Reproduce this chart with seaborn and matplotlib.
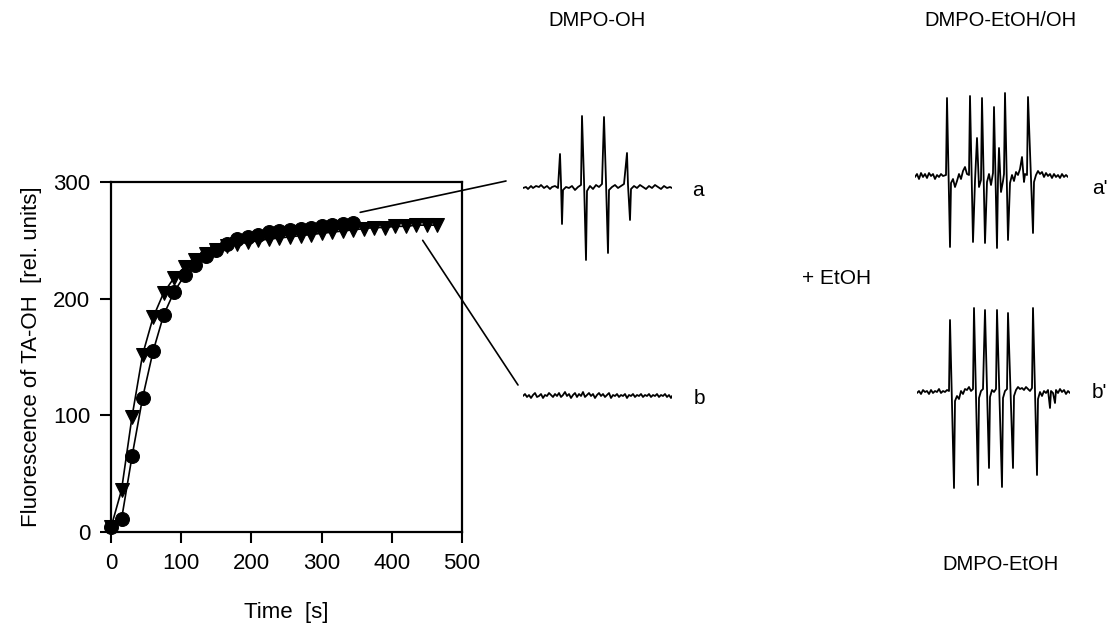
import numpy as np
import pandas as pd
import matplotlib
matplotlib.use("Agg")
import matplotlib.pyplot as plt
from matplotlib.patches import ConnectionPatch
import seaborn as sns

# ---------------- data ----------------
time_circle = [0, 15, 30, 45, 60, 75, 90, 105, 120, 135, 150, 165, 180, 195, 210,
               225, 240, 255, 270, 285, 300, 315, 330, 345]
fluor_circle = [4, 11, 65, 115, 155, 186, 206, 220, 229, 237, 242, 247, 251, 253, 255,
                257, 258, 259, 260, 261, 262, 263, 264, 265]

time_triangle = [0, 15, 30, 45, 60, 75, 90, 105, 120, 135, 150, 165, 180, 195, 210,
                 225, 240, 255, 270, 285, 300, 315, 330, 345, 360, 375, 390, 405,
                 420, 435, 450, 465]
fluor_triangle = [4, 36, 99, 152, 184, 205, 218, 227, 233, 238, 242, 245, 247, 249, 250,
                  251, 252, 253, 254, 255, 256, 257, 258, 259, 260, 261, 261, 262,
                  262, 263, 263, 263]

x_ticks = [0, 100, 200, 300, 400, 500]
y_ticks = [0, 100, 200, 300]

# EPR spectra traced as (field, signal) vertices, arbitrary units
spec_a = [(0, 0), (3, 1), (5, -1), (8, 2), (10, 0), (13, 2), (16, 1), (18, 3), (21, 0), (24, 2),
          (27, -1), (29, 1), (32, 2), (35, 0), (37, 34), (38, 5), (39, -36), (40, -2), (43, 1),
          (46, 0), (49, 2), (52, -2), (55, 1), (58, 3), (59, 72), (61, 8), (63, -72), (64, -3),
          (67, 2), (70, -1), (73, 3), (76, 1), (79, 4), (81, 71), (83, 6), (85, -65), (86, -2),
          (89, 1), (92, 3), (95, 0), (98, 2), (101, 4), (104, 35), (105, 3), (107, -32),
          (108, -1), (111, 2), (114, 0), (117, 3), (120, 1), (123, -1), (126, 2), (129, 0),
          (132, 3), (135, 1), (138, -1), (141, 2), (144, 0), (147, 1), (149, 0)]

spec_b = [(0, 0), (2, 2), (4, -1), (6, 1), (8, -2), (10, 1), (12, 3), (14, -1), (16, 0), (18, 2),
          (20, -2), (22, 1), (24, 0), (26, 3), (28, 1), (30, -1), (32, 2), (34, 0), (36, 3),
          (38, -1), (40, 1), (42, 4), (44, 0), (46, 2), (48, -2), (50, 1), (52, 3), (54, -1),
          (56, 2), (58, 0), (60, 4), (62, -1), (64, 1), (66, 3), (68, 0), (70, 2), (72, -2),
          (74, 1), (76, 3), (78, 0), (80, 2), (82, -1), (84, 1), (86, 3), (88, -2), (90, 1),
          (92, 0), (94, 2), (96, -1), (98, 1), (100, 0), (102, 2), (104, -2), (106, 1), (108, 0),
          (110, 2), (112, -1), (114, 1), (116, 0), (118, 2), (120, -1), (122, 1), (124, 0),
          (126, 2), (128, -1), (130, 1), (132, 0), (134, 2), (136, -1), (138, 1), (140, 0),
          (142, 2), (144, -1), (146, 1), (148, -2), (149, 0)]

spec_a2 = [(0, 0), (2, 3), (4, -2), (6, 4), (8, 0), (10, 3), (12, -1), (14, 4), (16, 1), (18, 3),
           (20, -2), (22, 2), (24, 0), (26, 3), (28, 1), (31, 2), (32, 79), (35, -70), (36, -6),
           (38, -2), (40, -10), (42, -4), (44, 3), (46, -2), (48, 6), (50, 10), (52, 3), (54, 2),
           (55, 81), (58, -65), (60, -4), (62, 39), (64, -10), (66, -3), (67, 79), (70, -66),
           (72, -5), (74, 3), (76, -8), (78, 4), (79, 70), (82, -71), (83, -2), (84, 29),
           (86, -15), (88, -4), (89, 3), (90, 84), (93, -63), (95, -6), (97, 2), (99, -4),
           (101, 5), (103, 2), (105, 8), (107, 20), (109, -5), (110, 3), (112, 2), (113, 80),
           (118, -56), (119, -5), (121, 2), (123, 6), (125, 3), (127, 5), (129, 0), (131, 4),
           (133, 1), (135, 3), (137, -1), (139, 3), (141, 0), (143, 2), (145, -1), (147, 3),
           (149, 0), (151, 2), (153, 0)]

spec_b2 = [(0, 0), (2, 2), (4, -1), (6, 3), (8, 1), (10, 2), (12, -1), (14, 3), (16, 0), (18, 2),
           (20, 1), (22, 4), (24, 0), (26, 2), (28, 1), (30, 3), (32, 2), (33, 73), (37, -95),
           (38, -8), (40, -3), (42, -6), (44, 2), (46, -1), (48, 4), (50, 3), (52, 6), (54, 2),
           (56, 4), (57, 85), (61, -92), (62, -5), (64, 2), (66, 4), (68, 83), (72, -75),
           (73, -4), (75, 3), (77, 1), (79, 4), (80, 83), (85, -94), (86, -5), (88, 2), (90, 4),
           (91, 80), (96, -75), (97, -3), (99, 3), (101, 6), (103, 4), (105, 5), (107, 3),
           (109, 6), (111, 4), (113, 2), (115, 5), (116, 85), (120, -82), (121, -6), (123, 1),
           (125, -3), (127, 2), (129, 0), (131, 3), (133, -15), (134, 2), (136, 0), (138, -10),
           (139, 3), (141, 0), (143, 4), (145, 1), (147, 3), (149, -1), (151, 2), (153, 0)]

# ---------------- style ----------------
sns.set_theme(style="ticks")
plt.rcParams["font.family"] = ["Liberation Sans", "DejaVu Sans"]

W, H = 1115, 626
fig = plt.figure(figsize=(W / 100, H / 100), dpi=100)
fig.patch.set_facecolor("white")


def px_rect(left, top, right, bottom):
    return [left / W, 1 - bottom / H, (right - left) / W, (bottom - top) / H]


# ---------------- main kinetics plot ----------------
ax = fig.add_axes(px_rect(111, 182, 462, 532))
df = pd.concat([
    pd.DataFrame({"t": time_circle, "v": fluor_circle, "s": "circle"}),
    pd.DataFrame({"t": time_triangle, "v": fluor_triangle, "s": "triangle"}),
])
sns.lineplot(data=df, x="t", y="v", style="s", markers={"circle": "o", "triangle": "v"},
             dashes=False, color="black", markersize=10, markeredgecolor="black",
             linewidth=1.2, legend=False, ax=ax, estimator=None, sort=False)
for ln in ax.lines:
    ln.set_clip_on(False)
    ln.set_markerfacecolor("black")

ax.set_xlim(0, 500)
ax.set_ylim(0, 300)
ax.set_xticks(x_ticks)
ax.set_yticks(y_ticks)
ax.set_xlabel("Time  [s]", fontsize=16, labelpad=20, color="black")
ax.set_ylabel("Fluorescence of TA-OH  [rel. units]", fontsize=16, labelpad=8, color="black")
for sp in ax.spines.values():
    sp.set_visible(True)
    sp.set_linewidth(1.6)
    sp.set_color("black")
ax.tick_params(direction="out", length=8, width=1.5, labelsize=16, pad=7, colors="black")
ax.set_facecolor("white")


# ---------------- EPR spectra insets ----------------
def spectrum_axes(verts, left, baseline, width, half=100):
    sax = fig.add_axes(px_rect(left, baseline - half, left + width, baseline + half))
    sdf = pd.DataFrame(verts, columns=["field", "signal"])
    sns.lineplot(data=sdf, x="field", y="signal", estimator=None, sort=False,
                 color="black", linewidth=1.3, ax=sax, legend=False)
    sax.set_xlim(0, width)
    sax.set_ylim(-half, half)
    sax.axis("off")
    return sax


ax_a = spectrum_axes(spec_a, 523, 188, 149)
ax_b = spectrum_axes(spec_b, 523, 396, 149)
ax_a2 = spectrum_axes(spec_a2, 915, 177, 153)
ax_b2 = spectrum_axes(spec_b2, 917, 393, 153)

# connector lines
for (xa, ya), sax, (xb, yb) in [((355, 274), ax_a, (-17, 7)), ((444, 250), ax_b, (-5, 11))]:
    con = ConnectionPatch(xyA=(xa, ya), coordsA=ax.transData, xyB=(xb, yb),
                          coordsB=sax.transData, color="black", linewidth=1.2)
    fig.add_artist(con)


def ftext(x, y, s, ha="center", size=14.5):
    fig.text(x / W, 1 - y / H, s, ha=ha, va="center", fontsize=size, color="black")


ftext(597, 20, "DMPO-OH")
ftext(1000, 20, "DMPO-EtOH/OH")
ftext(1000, 565, "DMPO-EtOH")
ftext(837, 278, "+ EtOH", size=15)
ftext(692, 190, "a", ha="left", size=15)
ftext(694, 398, "b", ha="left", size=15)
ftext(1092, 188, "a'", ha="left", size=15)
ftext(1092, 393, "b'", ha="left", size=15)

fig.savefig("out.png", dpi=100, facecolor="white")
